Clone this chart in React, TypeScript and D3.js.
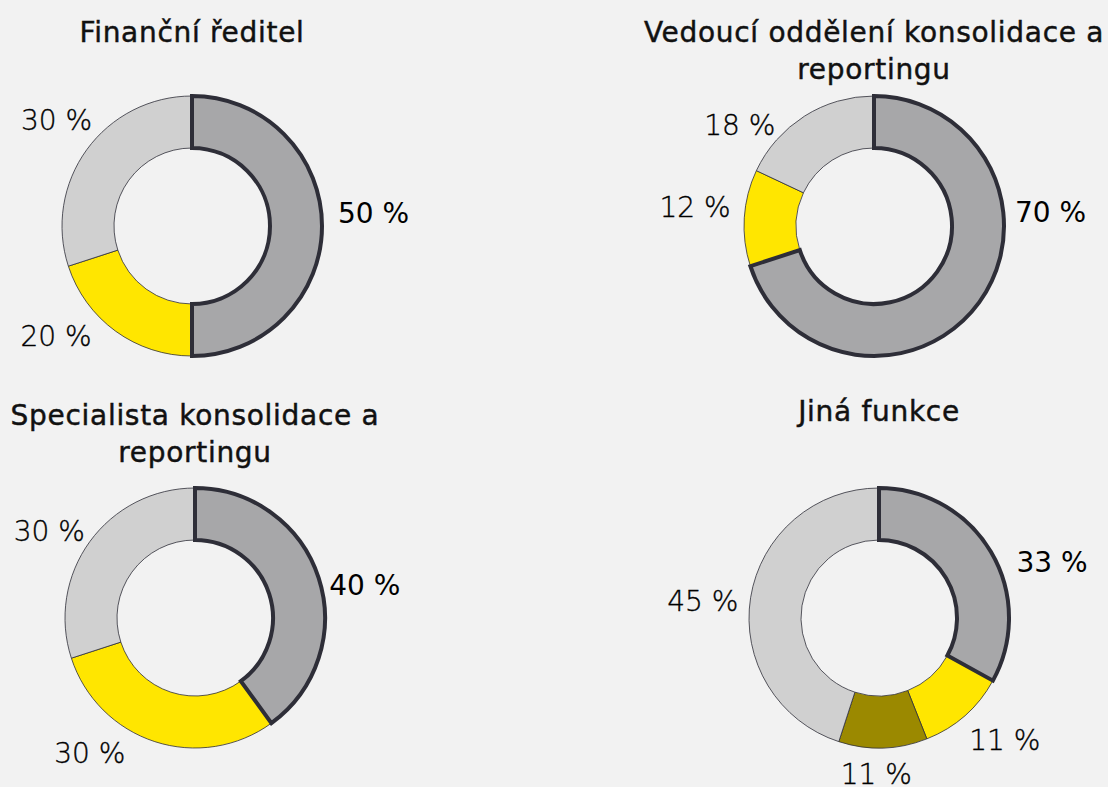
import React from "react";
import * as d3 from "d3";

// chart titles (one entry per donut, split into lines as in the original)
const titles: string[][] = [
  ["Finanční ředitel"],
  ["Vedoucí oddělení konsolidace a", "reportingu"],
  ["Specialista konsolidace a", "reportingu"],
  ["Jiná funkce"],
];

// percentages, clockwise from 12 o'clock
const cfoValues = [50, 20, 30];
const headValues = [70, 12, 18];
const specialistValues = [40, 30, 30];
const otherValues = [33, 11, 11, 45];

const DARK = "#a7a7a9";
const YELLOW = "#ffe600";
const OLIVE = "#9b8900";
const LIGHT = "#d0d0d0";
const INK = "#2e2e38";

const W = 1108;
const H = 787;
const outerR = 130;
const innerR = 78;
const font = "DejaVu Sans, sans-serif";

// where each chart sits and where its labels were placed (angle in degrees, radius)
const charts = [
  { values: cfoValues, colors: [DARK, YELLOW, LIGHT], cx: 192, cy: 226, titleY: 42,
    labelAt: [[86, 182], [231, 175], [308, 172]] },
  { values: headValues, colors: [DARK, YELLOW, LIGHT], cx: 874, cy: 226, titleY: 42,
    labelAt: [[85.5, 177], [276, 180], [307, 168]] },
  { values: specialistValues, colors: [DARK, YELLOW, LIGHT], cx: 195, cy: 618, titleY: 425,
    labelAt: [[79, 173], [218, 171], [301, 170]] },
  { values: otherValues, colors: [DARK, YELLOW, OLIVE, LIGHT], cx: 879, cy: 618, titleY: 421,
    labelAt: [[72, 182], [134, 175], [181, 156], [275.5, 177]] },
];

const pie = d3.pie<number>().sort(null).value((d) => d);
const arc = d3.arc<d3.PieArcDatum<number>>().innerRadius(innerR).outerRadius(outerR);

function Donut({ chart, title }: { chart: (typeof charts)[number]; title: string[] }) {
  const slices = pie(chart.values);
  const rad = Math.PI / 180;
  return (
    <g>
      {title.map((line, i) => (
        <text key={i} x={chart.cx} y={chart.titleY + i * 37} textAnchor="middle"
          fontFamily={font} fontSize={28} letterSpacing={0.7} fill="#111"
          stroke="#111" strokeWidth={0.45}>
          {line}
        </text>
      ))}
      <g transform={`translate(${chart.cx},${chart.cy})`}>
        {slices.slice(1).map((s, i) => (
          <path key={i} d={arc(s) || ""} fill={chart.colors[i + 1]} stroke={INK} strokeWidth={0.8} />
        ))}
        <path d={arc(slices[0]) || ""} fill={chart.colors[0]} stroke={INK} strokeWidth={4}
          strokeLinejoin="miter" />
        {slices.map((s, i) => {
          const [a, r] = chart.labelAt[i];
          const p = d3.arc().innerRadius(r).outerRadius(r)
            .centroid({ startAngle: a * rad, endAngle: a * rad } as any);
          const main = i === 0;
          return (
            <text key={i} x={p[0]} y={p[1]} dy="0.36em" textAnchor="middle" fontFamily={font}
              fontSize={28} fontWeight={main ? 400 : 300} fill="#000"
              stroke={main ? "none" : "#000"} strokeWidth={main ? 0 : 0.35}>
              {s.data} %
            </text>
          );
        })}
      </g>
    </g>
  );
}

export default function App() {
  return (
    <svg width={W} height={H} style={{ position: "absolute", left: 0, top: 0 }}>
      <rect width={W} height={H} fill="#f2f2f2" />
      {charts.map((c, i) => (
        <Donut key={i} chart={c} title={titles[i]} />
      ))}
    </svg>
  );
}
